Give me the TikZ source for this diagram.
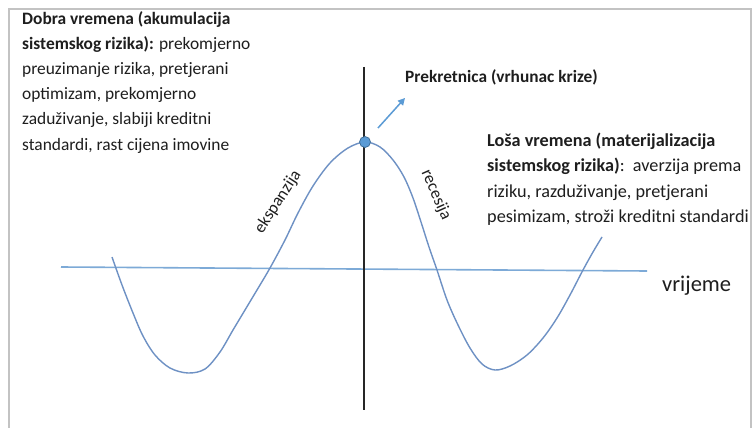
\documentclass[tikz,border=0pt]{standalone}
\usepackage{fontspec}
\setmainfont{Carlito}
\usetikzlibrary{arrows.meta}
\definecolor{framegray}{RGB}{195,195,195}
\definecolor{curveblue}{RGB}{110,145,196}
\definecolor{axisblue}{RGB}{125,170,215}
\definecolor{dotblue}{RGB}{91,155,213}
\definecolor{dotborder}{RGB}{65,113,156}
\definecolor{textgray}{RGB}{30,30,30}
\tikzset{
  framestyle/.style={draw=framegray, line width=2pt},
  curvestyle/.style={draw=curveblue, line width=1.4pt, line join=round},
  axisstyle/.style={draw=axisblue, line width=1.6pt},
  vlinestyle/.style={draw=black!85, line width=1.5pt},
  arrowstyle/.style={draw=dotblue, line width=1.5pt, -{Triangle[length=7pt,width=7pt]}},
  blocktext/.style={inner sep=0pt, align=left, text=textgray, font=\fontsize{17.4}{25.2}\selectfont},
  blocktextR/.style={inner sep=0pt, align=left, text=textgray, font=\fontsize{18.2}{25.2}\selectfont},
  slopetext/.style={inner sep=0pt, text=textgray, font=\fontsize{17}{20}\selectfont}
}
\begin{document}
\begin{tikzpicture}[x=1pt,y=-1pt]
\useasboundingbox (0,0) rectangle (753,428);
\fill[white] (0,0) rectangle (753,428);
% frame
\draw[framestyle] (9,428) -- (9,9) -- (751,9) -- (751,428);
% axis
\coordinate (axL) at (61,267);
\coordinate (axR) at (647,271);
\draw[axisstyle] (axL) -- (axR);
% vertical line
\coordinate (vT) at (364,67);
\coordinate (vB) at (364,410);
\draw[vlinestyle] (vT) -- (vB);
% curve
\draw[curvestyle] plot[smooth, tension=0.55] coordinates {
 (112,257) (122,285) (133,313) (143,336) (155,355) (170,368) (188,373)
 (205,369) (220,352) (233,330) (245,310) (257,290) (270,268) (285,240)
 (298,213) (313,186) (330,163) (348,148) (365,142) (380,147) (393,160)
 (404,177) (413,198) (421,222) (429,247) (437,270) (447,300) (458,325)
 (470,348) (482,364) (495,370) (510,366) (527,355) (543,338) (557,318)
 (570,295) (583,270) (593,252) (602,237)};
% peak
\node[circle, fill=dotblue, draw=dotborder, line width=0.8pt, minimum size=11pt, inner sep=0pt] (peak) at (365,142) {};
\coordinate (arS) at (378,128);
\coordinate (arE) at (405,98);
\draw[arrowstyle] (arS) -- (arE);
% labels
\node[anchor=base west, inner sep=0pt, text=textgray, font=\fontsize{17.3}{20}\selectfont\bfseries] (turn) at (405,83) {Prekretnica (vrhunac krize)};
\node[blocktext, anchor=north west] (good) at (22,11) {\textbf{Dobra vremena (akumulacija}\\\textbf{sistemskog rizika):} prekomjerno\\preuzimanje rizika, pretjerani\\optimizam, prekomjerno\\zaduživanje, slabiji kreditni\\standardi, rast cijena imovine};
\node[blocktextR, anchor=north west] (bad) at (487,133) {\textbf{Loša vremena (materijalizacija}\\\textbf{sistemskog rizika)}:\ \ averzija prema\\riziku, razduživanje, pretjerani\\pesimizam, stroži kreditni standardi};
\node[anchor=base west, inner sep=0pt, text=textgray, font=\fontsize{22.5}{26}\selectfont] (time) at (662,291) {vrijeme};
\node[slopetext, rotate=57] (exp) at (278,202) {ekspanzija};
\node[slopetext, rotate=-66] (rec) at (436,195) {recesija};
\end{tikzpicture}
\end{document}
